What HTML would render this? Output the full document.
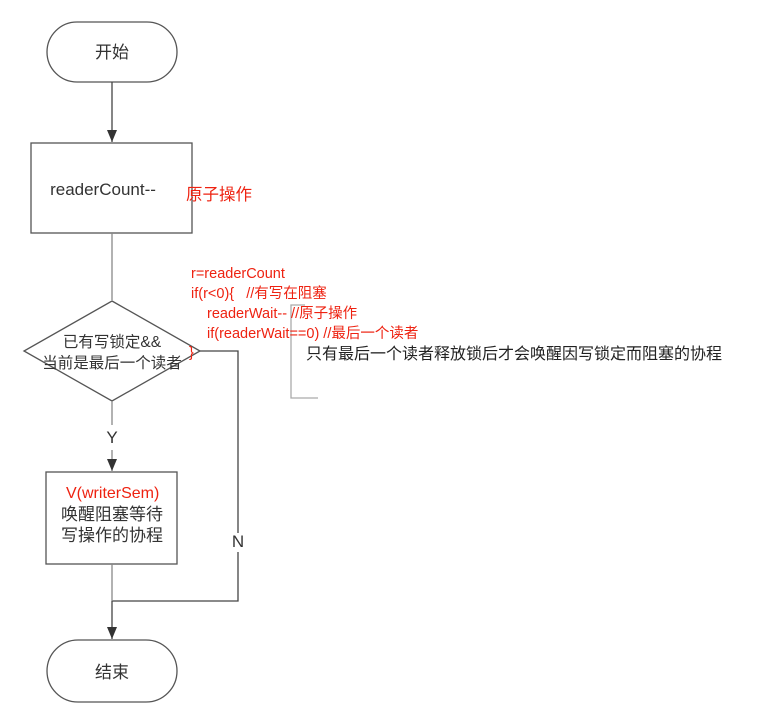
<!DOCTYPE html>
<html><head><meta charset="utf-8"><style>
body{margin:0;background:#fff;width:760px;height:717px;overflow:hidden}
svg text{font-family:"Liberation Sans","Noto Sans CJK SC",sans-serif}
</style></head><body>
<svg width="760" height="717" viewBox="0 0 760 717" xmlns="http://www.w3.org/2000/svg">
<defs><marker id="a" markerWidth="12" markerHeight="10" refX="12" refY="5" orient="auto" markerUnits="userSpaceOnUse"><path d="M0,0 L12,5 L0,10 Z" fill="#333"/></marker></defs>
<g fill="none" stroke="#555" stroke-width="1.3">
<rect x="47" y="22" width="130" height="60" rx="30" fill="#fff"/>
<rect x="31" y="143" width="161" height="90" fill="#fff"/>
<path d="M112,301 L200,351 L112,401 L24,351 Z" fill="#fff"/>
<rect x="46" y="472" width="131" height="92" fill="#fff"/>
<rect x="47" y="640" width="130" height="62" rx="31" fill="#fff"/>
<path d="M112,82 V142" marker-end="url(#a)" stroke="#444"/>
<path d="M112,233 V300" stroke="#888"/>
<path d="M112,401 V425" stroke="#888"/>
<path d="M112,450 V471" marker-end="url(#a)" stroke="#888"/>
<path d="M112,564 V600" stroke="#888"/>
<path d="M200,351 H238 V533 M238,552 V601 H112 V639" marker-end="url(#a)" stroke="#444"/>
<path d="M305,305 H291 V398 H318" stroke="#aaa"/>
</g>
<g font-size="17" fill="#333" text-anchor="middle">
<text x="112" y="58">开始</text>
<text x="103" y="195">readerCount--</text>
<text x="112" y="347" font-size="15.5">已有写锁定&amp;&amp;</text>
<text x="112" y="368" font-size="15.5">当前是最后一个读者</text>
<text x="112" y="443">Y</text>
<text x="112" y="520">唤醒阻塞等待</text>
<text x="112" y="541">写操作的协程</text>
<text x="238" y="547">N</text>
<text x="112" y="678">结束</text>
</g>
<text x="66" y="498" font-size="16" fill="#e21">V(writerSem)</text>
<text x="186" y="200" font-size="16.5" fill="#e21">原子操作</text>
<g font-size="14.5" fill="#e21">
<text x="191" y="278">r=readerCount</text>
<text x="191" y="298">if(r&lt;0){&#160;&#160;&#160;//有写在阻塞</text>
<text x="207" y="318">readerWait-- //原子操作</text>
<text x="207" y="338">if(readerWait==0) //最后一个读者</text>
<text x="189" y="357">}</text>
</g>
<text x="306" y="359" font-size="16" fill="#222">只有最后一个读者释放锁后才会唤醒因写锁定而阻塞的协程</text>
</svg>
</body></html>
